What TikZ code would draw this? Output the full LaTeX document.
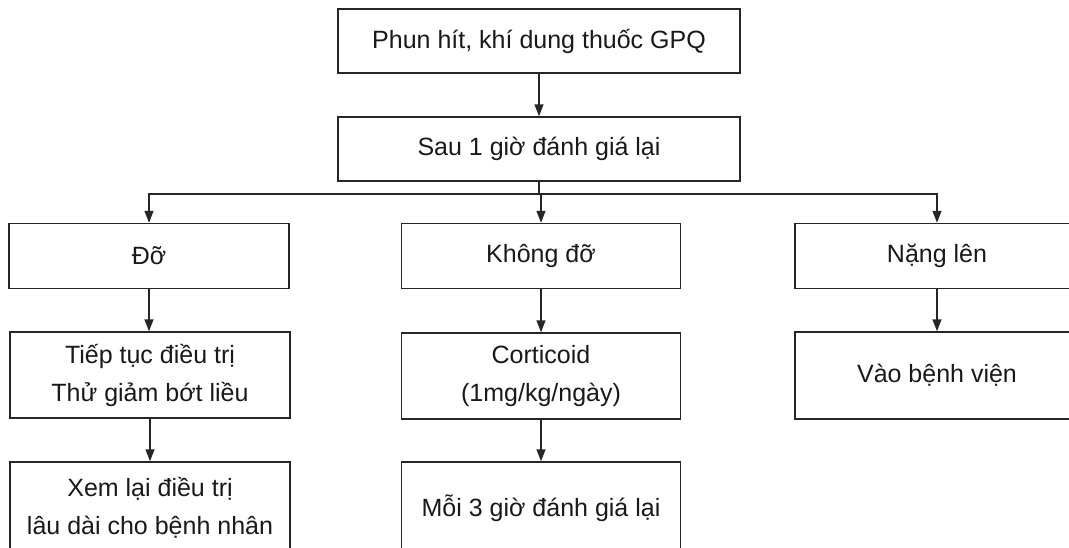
\documentclass[tikz,border=0pt]{standalone}
\usepackage{fontspec}
\setmainfont{Liberation Sans}
\usetikzlibrary{arrows.meta}
\begin{document}
\begin{tikzpicture}[x=1pt,y=-1pt,
  line/.style={draw=black!85,line width=1.5pt},
  box/.style={line,rectangle,align=center,inner sep=0pt,
    font=\fontsize{25}{38}\selectfont,text=black!90},
  flow/.style={line,-{Triangle[length=12pt,width=9pt]}}]
\useasboundingbox (0,0) rectangle (1069,547);
\clip (0,0) rectangle (1069,547);
% top of the chart
\node[box,minimum width=402pt,minimum height=64pt] (hit) at (539,41) {Phun hít, khí dung thuốc GPQ};
\node[box,minimum width=402pt,minimum height=64pt] (sau) at (539,149) {Sau 1 giờ đánh giá lại};
\coordinate (bus) at (539,194);
% three outcomes
\node[box,minimum width=280pt,minimum height=65pt] (do) at (149,256) {Đỡ};
\node[box,minimum width=279pt,minimum height=65pt] (khong) at (541,256) {Không đỡ};
\node[box,minimum width=284pt,minimum height=65pt] (nang) at (937,256) {Nặng lên};
% second row
\node[box,minimum width=280pt,minimum height=86pt] (tiep) at (150,375) {Tiếp tục điều trị\\Thử giảm bớt liều};
\node[box,minimum width=279pt,minimum height=86pt] (cort) at (541,376) {Corticoid\\(1mg/kg/ngày)};
\node[box,minimum width=284pt,minimum height=87pt] (vao) at (937,375.5) {Vào bệnh viện};
% third row (runs past the lower edge)
\node[box,minimum width=280pt,minimum height=92pt] (xem) at (150,508) {Xem lại điều trị\\lâu dài cho bệnh nhân};
\node[box,minimum width=279pt,minimum height=92pt] (moi) at (541,508) {Mỗi 3 giờ đánh giá lại};
% connectors
\draw[flow] (hit.south) -- (sau.north);
\draw[line] (sau.south) -- (bus);
\draw[flow] (bus) -| (do.north);
\draw[flow] (bus) -| (nang.north);
\draw[flow] (bus -| khong.north) -- (khong.north);
\draw[flow] (do.south) -- (tiep.north -| do.south);
\draw[flow] (khong.south) -- (cort.north);
\draw[flow] (nang.south) -- (vao.north);
\draw[flow] (tiep.south) -- (xem.north);
\draw[flow] (cort.south) -- (moi.north);
\end{tikzpicture}
\end{document}
